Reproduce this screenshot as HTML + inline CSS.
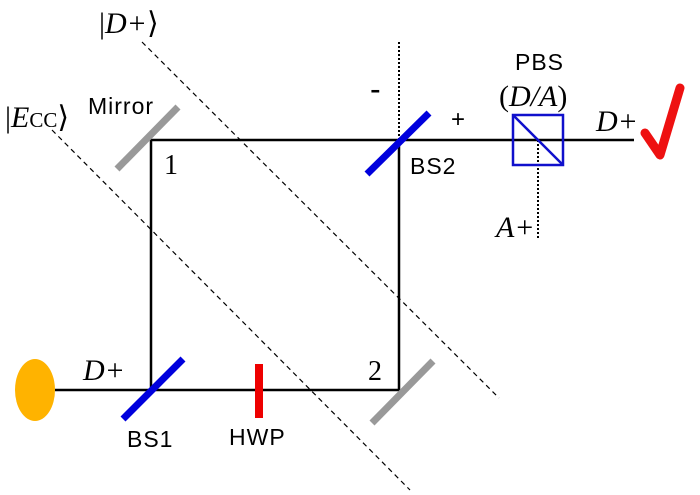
<!DOCTYPE html>
<html><head><style>body{margin:0;background:#fff}svg{display:block}</style></head><body>
<svg width="700" height="495" xmlns="http://www.w3.org/2000/svg" font-family="Liberation Sans, DejaVu Sans, sans-serif">
<g stroke="#000" stroke-width="1.2" stroke-dasharray="5,4" fill="none">
<line x1="142" y1="42" x2="499" y2="398"/>
<line x1="52" y1="130" x2="410" y2="490"/>
</g>
<g stroke="#000" stroke-width="2" stroke-dasharray="2,2" fill="none">
<line x1="399" y1="42" x2="399" y2="140"/>
<line x1="538" y1="140" x2="538" y2="240"/>
</g>
<g stroke="#000" stroke-width="2.5" fill="none">
<polyline points="634,140 151,140 151,390 399,390 399,140"/>
<line x1="55" y1="390" x2="151" y2="390"/>
</g>
<ellipse cx="35" cy="390" rx="20" ry="31" fill="#ffb300"/>
<g stroke-width="7" stroke-linecap="butt">
<line x1="117" y1="169" x2="178" y2="107" stroke="#999"/>
<line x1="372" y1="423" x2="433" y2="361" stroke="#999"/>
<line x1="123" y1="419" x2="183" y2="359" stroke="#0000dd"/>
<line x1="367" y1="174" x2="429" y2="113" stroke="#0000dd"/>
<line x1="259" y1="364" x2="259" y2="418" stroke="#ee0000" stroke-width="8"/>
</g>
<rect x="513" y="115" width="50" height="50" fill="none" stroke="#1010cc" stroke-width="2.5"/>
<line x1="513" y1="115" x2="563" y2="165" stroke="#1010cc" stroke-width="2.5"/>
<path d="M645 133 L660 155 L680 88" fill="none" stroke="#ee1111" stroke-width="9" stroke-linejoin="round" stroke-linecap="round"/>
<g font-size="23" fill="#000" letter-spacing="1">
<text x="88" y="114">Mirror</text>
<text x="164" y="174" font-family="Liberation Serif, serif" font-size="28" letter-spacing="0">1</text>
<text x="368" y="380" font-family="Liberation Serif, serif" font-size="28" letter-spacing="0">2</text>
<text x="410" y="174">BS2</text>
<text x="127" y="447">BS1</text>
<text x="229" y="445">HWP</text>
<text x="515" y="70">PBS</text>
<text x="370" y="100" font-size="32">-</text>
<text x="451" y="127" font-size="24">+</text>
</g>
<g font-family="Liberation Serif, serif" font-style="italic" font-size="30" fill="#000">
<text x="499" y="106"><tspan font-style="normal">(</tspan>D/A<tspan font-style="normal">)</tspan></text>
<text x="596" y="131">D+</text>
<text x="496" y="237">A+</text>
<text x="83" y="380">D+</text>
<text x="99" y="33"><tspan font-style="normal">|</tspan>D+<tspan font-style="normal">⟩</tspan></text>
<text x="5" y="127"><tspan font-style="normal">|</tspan>E<tspan font-style="normal" font-size="21">CC</tspan><tspan font-style="normal">⟩</tspan></text>
</g>
</svg>
</body></html>
